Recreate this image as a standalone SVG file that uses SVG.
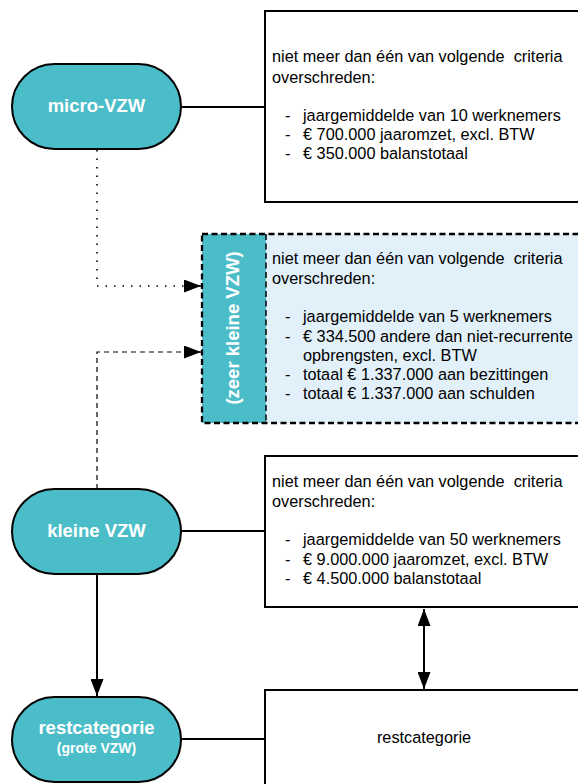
<svg xmlns="http://www.w3.org/2000/svg" width="578" height="784" viewBox="0 0 578 784">
<style>
.node{fill:#4BBDC9;stroke:#000;stroke-width:2}
.box{fill:#fff;stroke:#000;stroke-width:2}
.lbl{font-family:"Liberation Sans",Arial,sans-serif;font-weight:bold;fill:#fff;font-size:18.5px;text-anchor:middle}
.sub{font-size:14px}
.t{font-family:"Liberation Sans",Arial,sans-serif;font-size:16.3px;fill:#000;white-space:pre}
.line{fill:none;stroke:#000;stroke-width:2}
.dot{fill:none;stroke:#000;stroke-width:1.6;stroke-dasharray:1.5 7}
.dash{fill:none;stroke:#000;stroke-width:1.2;stroke-dasharray:5 4}
</style>
<defs>
<marker id="ah" markerUnits="userSpaceOnUse" markerWidth="17" markerHeight="13" refX="17" refY="6.5" orient="auto-start-reverse">
<path d="M0,0 L17,6.5 L0,13 z" fill="#000"/>
</marker>
</defs>
<rect width="578" height="784" fill="#fff"/>
<g id="connectors">
<line class="line" x1="181" y1="107" x2="265" y2="107"/>
<polyline class="dot" points="97,150 97,286 184,286"/>
<line x1="184" y1="286" x2="201" y2="286" stroke="#000" stroke-width="1.5" marker-end="url(#ah)"/>
<polyline class="dash" points="97,489 97,352 184,352"/>
<line x1="184" y1="352" x2="201" y2="352" stroke="#000" stroke-width="1.2" marker-end="url(#ah)"/>
<line class="line" x1="181" y1="531" x2="265" y2="531"/>
<line class="line" x1="97" y1="575" x2="97" y2="696" marker-end="url(#ah)"/>
<line class="line" x1="181" y1="739" x2="265" y2="739"/>
<line class="line" x1="424" y1="609" x2="424" y2="689" marker-start="url(#ah)" marker-end="url(#ah)"/>
</g>
<g id="box-micro">
<rect class="box" x="265" y="11" width="320" height="191"/>
<text class="t" x="272" y="62">niet meer dan één van volgende  criteria</text>
<text class="t" x="272" y="83">overschreden:</text>
<text class="t" x="285" y="121">-</text><text class="t" x="303" y="121">jaargemiddelde van 10 werknemers</text>
<text class="t" x="285" y="140">-</text><text class="t" x="303" y="140">€ 700.000 jaaromzet, excl. BTW</text>
<text class="t" x="285" y="159">-</text><text class="t" x="303" y="159">€ 350.000 balanstotaal</text>
</g>
<g id="box-zeerklein">
<rect x="202" y="234" width="380" height="189" fill="#E2F0FA"/>
<rect x="202" y="234" width="64" height="189" fill="#4BBDC9"/>
<rect x="202" y="234" width="380" height="189" fill="none" stroke="#000" stroke-width="2.3" stroke-dasharray="6 3.5"/>
<line x1="266" y1="234" x2="266" y2="423" stroke="#000" stroke-width="1.5" stroke-dasharray="6 3.5"/>
<text class="lbl" transform="translate(232,328) rotate(-90)" x="0" y="6.5">(zeer kleine VZW)</text>
<text class="t" x="272" y="264">niet meer dan één van volgende  criteria</text>
<text class="t" x="272" y="284">overschreden:</text>
<text class="t" x="285" y="322">-</text><text class="t" x="303" y="322">jaargemiddelde van 5 werknemers</text>
<text class="t" x="285" y="342">-</text><text class="t" x="303" y="342">€ 334.500 andere dan niet-recurrente</text>
<text class="t" x="303" y="361">opbrengsten, excl. BTW</text>
<text class="t" x="285" y="380">-</text><text class="t" x="303" y="380">totaal € 1.337.000 aan bezittingen</text>
<text class="t" x="285" y="399">-</text><text class="t" x="303" y="399">totaal € 1.337.000 aan schulden</text>
</g>
<g id="box-klein">
<rect class="box" x="265" y="456" width="320" height="151"/>
<text class="t" x="272" y="487">niet meer dan één van volgende  criteria</text>
<text class="t" x="272" y="507">overschreden:</text>
<text class="t" x="285" y="545">-</text><text class="t" x="303" y="545">jaargemiddelde van 50 werknemers</text>
<text class="t" x="285" y="565">-</text><text class="t" x="303" y="565">€ 9.000.000 jaaromzet, excl. BTW</text>
<text class="t" x="285" y="584">-</text><text class="t" x="303" y="584">€ 4.500.000 balanstotaal</text>
</g>
<g id="box-rest">
<rect class="box" x="265" y="690" width="320" height="120"/>
<text class="t" x="424" y="743" text-anchor="middle">restcategorie</text>
</g>
<g id="node-micro">
<rect class="node" x="12" y="64" width="169" height="85" rx="42.5"/>
<text class="lbl" x="96.5" y="112">micro-VZW</text>
</g>
<g id="node-klein">
<rect class="node" x="12" y="489" width="169" height="85" rx="42.5"/>
<text class="lbl" x="96.5" y="537">kleine VZW</text>
</g>
<g id="node-rest">
<rect class="node" x="12" y="697" width="169" height="85" rx="42.5"/>
<text class="lbl" x="96.5" y="734">restcategorie</text>
<text class="lbl sub" x="96.5" y="753">(grote VZW)</text>
</g>
</svg>
